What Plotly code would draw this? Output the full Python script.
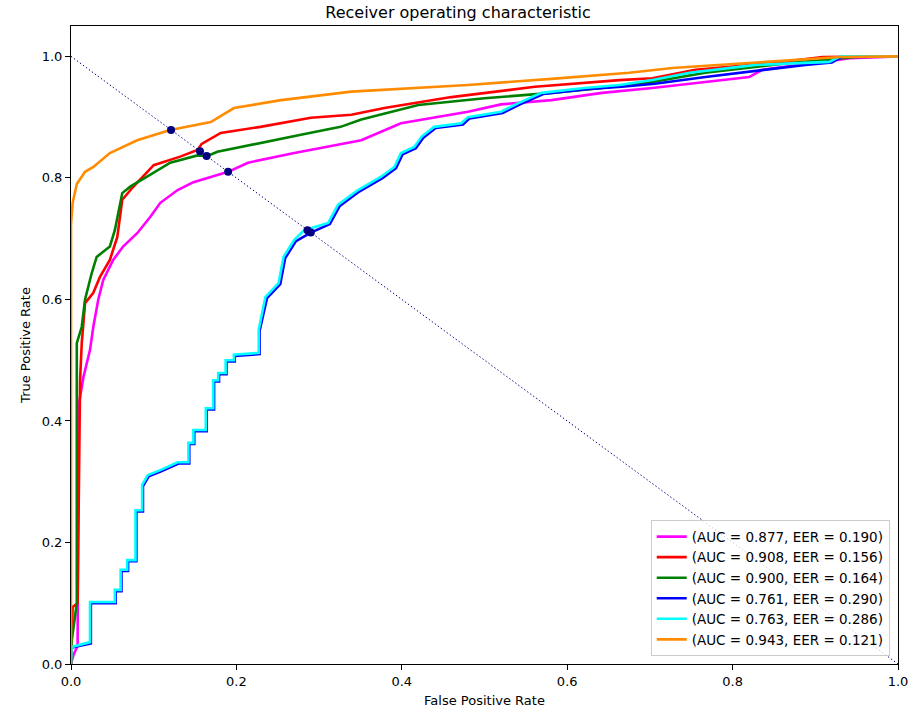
import plotly.graph_objects as go

# ROC curves (fpr, tpr)
names = [
    "(AUC = 0.877, EER = 0.190)",
    "(AUC = 0.908, EER = 0.156)",
    "(AUC = 0.900, EER = 0.164)",
    "(AUC = 0.761, EER = 0.290)",
    "(AUC = 0.763, EER = 0.286)",
    "(AUC = 0.943, EER = 0.121)",
]
colors = ["magenta", "red", "green", "blue", "cyan", "darkorange"]
eer = [0.190, 0.156, 0.164, 0.290, 0.286, 0.121]

fpr_magenta = [0, 0.003, 0.008, 0.009, 0.015, 0.023, 0.027, 0.033, 0.039, 0.051, 0.063,
               0.08, 0.096, 0.108, 0.129, 0.148, 0.19, 0.214, 0.27, 0.323, 0.351, 0.399,
               0.42, 0.48, 0.52, 0.581, 0.642, 0.703, 0.82, 0.836, 0.909, 0.942, 1.0]
tpr_magenta = [0, 0.015, 0.03, 0.423, 0.472, 0.517, 0.555, 0.6, 0.632, 0.665, 0.687,
               0.709, 0.736, 0.759, 0.78, 0.793, 0.81, 0.825, 0.841, 0.854, 0.862, 0.89,
               0.895, 0.909, 0.921, 0.928, 0.94, 0.948, 0.966, 0.978, 0.991, 0.997, 1.0]

fpr_red = [0, 0.002, 0.008, 0.011, 0.013, 0.017, 0.027, 0.035, 0.047, 0.056, 0.062,
           0.075, 0.1, 0.132, 0.153, 0.158, 0.181, 0.229, 0.29, 0.339, 0.379, 0.46,
           0.561, 0.663, 0.703, 0.755, 0.848, 0.909, 1.0]
tpr_red = [0, 0.094, 0.1, 0.468, 0.528, 0.594, 0.611, 0.637, 0.665, 0.703, 0.764,
           0.785, 0.821, 0.835, 0.846, 0.856, 0.874, 0.884, 0.899, 0.904, 0.915, 0.933,
           0.95, 0.961, 0.964, 0.978, 0.989, 0.999, 1.0]

fpr_green = [0, 0.001, 0.007, 0.007, 0.013, 0.017, 0.025, 0.031, 0.047, 0.053, 0.062,
             0.072, 0.092, 0.12, 0.153, 0.165, 0.177, 0.229, 0.278, 0.326, 0.351, 0.42,
             0.5, 0.581, 0.642, 0.703, 0.767, 0.869, 0.949, 1.0]
tpr_green = [0, 0.04, 0.1, 0.528, 0.555, 0.6, 0.643, 0.67, 0.687, 0.714, 0.775,
             0.786, 0.802, 0.825, 0.837, 0.836, 0.843, 0.858, 0.871, 0.884, 0.896, 0.92,
             0.931, 0.94, 0.948, 0.958, 0.973, 0.989, 0.999, 1.0]

fpr_blue = [0, 0.001, 0.024, 0.024, 0.054, 0.054, 0.061, 0.061, 0.069, 0.069, 0.079, 0.079,
            0.087, 0.087, 0.094, 0.109, 0.130, 0.143, 0.143, 0.149, 0.149, 0.164, 0.164,
            0.173, 0.173, 0.179, 0.179, 0.188, 0.188, 0.198, 0.198, 0.228, 0.228, 0.237,
            0.253, 0.259, 0.272, 0.29, 0.313, 0.325, 0.349, 0.377, 0.393, 0.401, 0.417,
            0.426, 0.441, 0.474, 0.482, 0.522, 0.543, 0.571, 0.623, 0.666, 0.706, 0.767,
            0.888, 0.92, 0.933, 1.0]
tpr_blue = [0, 0.027, 0.034, 0.1, 0.1, 0.12, 0.12, 0.153, 0.153, 0.169, 0.169, 0.251,
            0.251, 0.293, 0.309, 0.317, 0.330, 0.330, 0.362, 0.362, 0.383, 0.383, 0.419,
            0.419, 0.465, 0.465, 0.477, 0.477, 0.498, 0.498, 0.507, 0.510, 0.548, 0.602,
            0.625, 0.668, 0.696, 0.71, 0.724, 0.754, 0.778, 0.8, 0.816, 0.839, 0.849,
            0.866, 0.882, 0.888, 0.898, 0.907, 0.921, 0.938, 0.946, 0.95, 0.955, 0.966,
            0.986, 0.99, 1.0, 1.0]

fpr_cyan = [0, 0.001, 0.023, 0.023, 0.053, 0.053, 0.06, 0.06, 0.068, 0.068, 0.078, 0.078,
            0.086, 0.086, 0.093, 0.108, 0.129, 0.142, 0.142, 0.148, 0.148, 0.163, 0.163,
            0.172, 0.172, 0.178, 0.178, 0.187, 0.187, 0.197, 0.197, 0.227, 0.227, 0.235,
            0.251, 0.257, 0.27, 0.282, 0.311, 0.323, 0.347, 0.375, 0.391, 0.399, 0.415,
            0.424, 0.439, 0.472, 0.48, 0.52, 0.541, 0.569, 0.621, 0.663, 0.703, 0.748,
            0.828, 0.917, 0.93, 1.0]
tpr_cyan = [0, 0.028, 0.036, 0.102, 0.102, 0.122, 0.122, 0.155, 0.155, 0.171, 0.171, 0.253,
            0.253, 0.295, 0.311, 0.319, 0.332, 0.332, 0.364, 0.364, 0.385, 0.385, 0.421,
            0.421, 0.467, 0.467, 0.479, 0.479, 0.5, 0.5, 0.509, 0.512, 0.55, 0.604,
            0.627, 0.67, 0.698, 0.714, 0.726, 0.756, 0.78, 0.802, 0.818, 0.841, 0.851,
            0.868, 0.884, 0.89, 0.9, 0.909, 0.923, 0.94, 0.948, 0.953, 0.961, 0.973,
            0.986, 0.991, 1.0, 1.0]

fpr_orange = [0, 0.0, 0.002, 0.007, 0.017, 0.027, 0.047, 0.08, 0.12, 0.169, 0.197,
              0.254, 0.339, 0.48, 0.581, 0.675, 0.727, 0.848, 0.93, 1.0]
tpr_orange = [0, 0.723, 0.759, 0.79, 0.81, 0.818, 0.841, 0.862, 0.879, 0.892, 0.915,
              0.928, 0.942, 0.953, 0.963, 0.973, 0.981, 0.991, 0.999, 1.0]

fprs = [fpr_magenta, fpr_red, fpr_green, fpr_blue, fpr_cyan, fpr_orange]
tprs = [tpr_magenta, tpr_red, tpr_green, tpr_blue, tpr_cyan, tpr_orange]

fig = go.Figure()

for fpr, tpr, color, name in zip(fprs, tprs, colors, names):
    fig.add_trace(go.Scatter(x=fpr, y=tpr, mode="lines", name=name,
                             line=dict(color=color, width=2.6)))

# chance / EER line
fig.add_trace(go.Scatter(x=[0, 1], y=[1, 0], mode="lines", showlegend=False,
                         line=dict(color="navy", width=1, dash="1.4px,2.3px")))

# EER points
fig.add_trace(go.Scatter(x=eer, y=[1 - e for e in eer], mode="markers", showlegend=False,
                         marker=dict(color="navy", size=8)))

axis_style = dict(showgrid=False, zeroline=False, showline=True, linecolor="black",
                  linewidth=1, mirror=True, ticks="outside", ticklen=5, tickcolor="black",
                  tickformat=".1f", dtick=0.2,
                  tickfont=dict(family="DejaVu Sans", size=13, color="black"))

fig.update_xaxes(range=[0, 1], title=dict(text="False Positive Rate", standoff=8,
                 font=dict(family="DejaVu Sans", size=13, color="black")), **axis_style)
fig.update_yaxes(range=[0, 1.05], title=dict(text="True Positive Rate", standoff=8,
                 font=dict(family="DejaVu Sans", size=13, color="black")), **axis_style)

fig.update_layout(
    width=916, height=724,
    margin=dict(l=71, r=18, t=26, b=60, autoexpand=False),
    plot_bgcolor="white", paper_bgcolor="white",
    title=dict(text="Receiver operating characteristic", x=0.5, xanchor="center",
               y=1 - 12 / 724, yanchor="middle", yref="container",
               font=dict(family="DejaVu Sans", size=16, color="black")),
    legend=dict(x=0.99, y=0.012, xanchor="right", yanchor="bottom",
                bgcolor="rgba(255,255,255,0.8)", bordercolor="#cccccc", borderwidth=1,
                font=dict(family="DejaVu Sans", size=13.5, color="black"),
                tracegroupgap=0, itemwidth=30),
    font=dict(family="DejaVu Sans"),
)

# page has default 8px body margin; drop it so the figure fills the window
fig.write_html("out.html", config={"displayModeBar": False},
               post_script="document.body.style.margin='0';document.body.style.overflow='hidden';")
